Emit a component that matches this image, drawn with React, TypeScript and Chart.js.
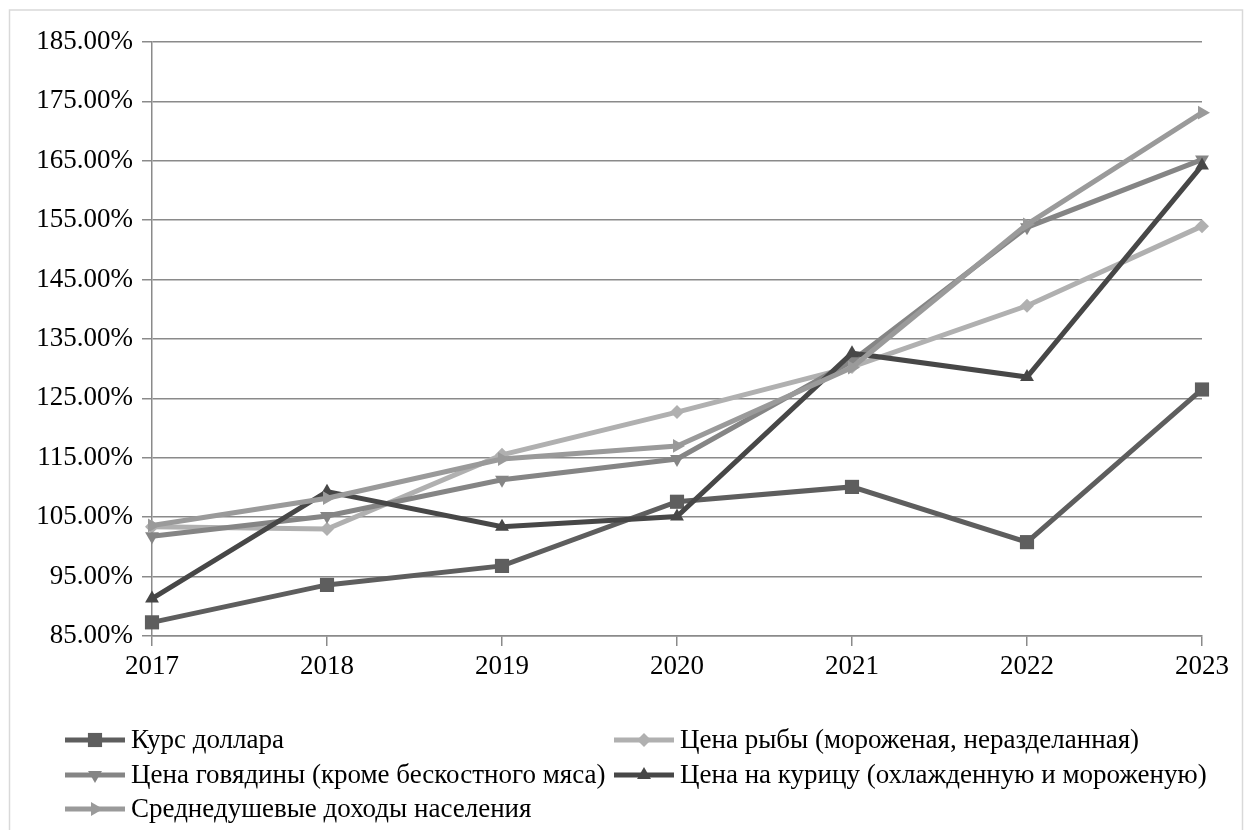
import React, { useEffect, useRef } from "react";
import { Chart, registerables } from "chart.js";

Chart.register(...registerables);

const years = ["2017", "2018", "2019", "2020", "2021", "2022", "2023"];
const dollarRate = [87.3, 93.6, 96.8, 107.6, 110.1, 100.8, 126.5];
const fishPrice = [103.4, 103.0, 115.5, 122.7, 130.3, 140.6, 154.0];
const beefPrice = [101.8, 105.2, 111.3, 114.8, 131.3, 153.8, 165.2];
const chickenPrice = [91.3, 109.3, 103.4, 105.1, 132.6, 128.6, 164.2];
const incomePerCapita = [103.6, 108.2, 114.8, 117.0, 130.2, 154.3, 173.1];

const seriesNames = [
  "Курс доллара",
  "Цена рыбы (мороженая, неразделанная)",
  "Цена говядины (кроме бескостного мяса)",
  "Цена на курицу (охлажденную и мороженую)",
  "Среднедушевые доходы населения",
];
const seriesColors = ["#5e5e5e", "#b0b0b0", "#858585", "#474747", "#9a9a9a"];
const seriesMarkers = ["rect", "rectRot", "triangleDown", "triangle", "triangleRight"];
const seriesRadius = [10, 7, 8, 8, 8];

const FONT = '"Liberation Serif", "DejaVu Serif", serif';
const FONT_SIZE = 27;

function markerStyle(m: string): { style: any; rotation: number } {
  if (m === "triangleDown") return { style: "triangle", rotation: 180 };
  if (m === "triangleRight") return { style: "triangle", rotation: 90 };
  return { style: m, rotation: 0 };
}

function drawMarker(ctx: CanvasRenderingContext2D, m: string, x: number, y: number, r: number, color: string) {
  ctx.save();
  ctx.fillStyle = color;
  ctx.beginPath();
  if (m === "rect") {
    const s = Math.SQRT1_2 * r;
    ctx.rect(x - s, y - s, 2 * s, 2 * s);
  } else if (m === "rectRot") {
    ctx.moveTo(x, y - r);
    ctx.lineTo(x + r, y);
    ctx.lineTo(x, y + r);
    ctx.lineTo(x - r, y);
    ctx.closePath();
  } else {
    const rot = m === "triangleDown" ? Math.PI : m === "triangleRight" ? Math.PI / 2 : 0;
    for (let i = 0; i < 3; i++) {
      const a = rot + (i * 2 * Math.PI) / 3;
      const px = x + Math.sin(a) * r;
      const py = y - Math.cos(a) * r;
      if (i === 0) ctx.moveTo(px, py);
      else ctx.lineTo(px, py);
    }
    ctx.closePath();
  }
  ctx.fill();
  ctx.restore();
}

const framePlugin = {
  id: "frame",
  beforeDraw(chart: any) {
    const ctx = chart.ctx;
    ctx.save();
    ctx.fillStyle = "#ffffff";
    ctx.fillRect(0, 0, chart.width, chart.height);
    ctx.strokeStyle = "#d9d9d9";
    ctx.lineWidth = 1.5;
    ctx.strokeRect(9.5, 10, chart.width - 11, chart.height + 20);
    ctx.restore();
  },
};

const legendPlugin = {
  id: "customLegend",
  afterDraw(chart: any) {
    const ctx = chart.ctx;
    const cols = [65, 614];
    const rows = [740, 775, 809];
    ctx.save();
    seriesNames.forEach((name, i) => {
      const x = cols[i % 2];
      const y = rows[Math.floor(i / 2)];
      ctx.strokeStyle = seriesColors[i];
      ctx.lineWidth = 5;
      ctx.beginPath();
      ctx.moveTo(x, y);
      ctx.lineTo(x + 60, y);
      ctx.stroke();
      drawMarker(ctx, seriesMarkers[i], x + 30, y, seriesRadius[i], seriesColors[i]);
      ctx.fillStyle = "#000000";
      ctx.font = `${FONT_SIZE}px ${FONT}`;
      ctx.textBaseline = "middle";
      ctx.textAlign = "left";
      ctx.fillText(name, x + 66, y + 1);
    });
    ctx.restore();
  },
};

export default function App() {
  const ref = useRef<HTMLCanvasElement | null>(null);

  useEffect(() => {
    if (!ref.current) return;
    const values = [dollarRate, fishPrice, beefPrice, chickenPrice, incomePerCapita];
    const datasets = values.map((data, i) => {
      const ms = markerStyle(seriesMarkers[i]);
      return {
        label: seriesNames[i],
        data,
        borderColor: seriesColors[i],
        backgroundColor: seriesColors[i],
        borderWidth: 5,
        pointStyle: ms.style,
        rotation: ms.rotation,
        pointRadius: seriesRadius[i],
        pointBorderWidth: 0,
        pointBackgroundColor: seriesColors[i],
        pointBorderColor: seriesColors[i],
        tension: 0,
        fill: false,
        order: 5 - i,
      };
    });
    const chart = new Chart(ref.current, {
      type: "line",
      data: { labels: years, datasets },
      options: {
        responsive: false,
        animation: false,
        devicePixelRatio: 1,
        layout: { padding: { left: 0, top: 42, right: 42, bottom: 150 } },
        plugins: { legend: { display: false }, tooltip: { enabled: false } },
        scales: {
          x: {
            offset: false,
            grid: { drawOnChartArea: false, drawTicks: true, tickLength: 10, color: "#8a8a8a", lineWidth: 1.5 },
            border: { display: true, color: "#8a8a8a", width: 1.5 },
            ticks: { color: "#000000", font: { family: FONT, size: FONT_SIZE }, padding: 5, maxRotation: 0, autoSkip: false },
            afterFit(scale: any) {
              scale.height = 44;
            },
          },
          y: {
            min: 85,
            max: 185,
            grid: { color: "#8a8a8a", lineWidth: 1.5, tickLength: 10 },
            border: { display: true, color: "#8a8a8a", width: 1.5 },
            ticks: {
              stepSize: 10,
              color: "#000000",
              font: { family: FONT, size: FONT_SIZE },
              padding: 9,
              callback: (v: any) => Number(v).toFixed(2) + "%",
            },
            afterFit(scale: any) {
              scale.width = 152;
            },
          },
        },
      },
      plugins: [framePlugin, legendPlugin],
    });
    return () => chart.destroy();
  }, []);

  return (
    <div style={{ position: "fixed", left: 0, top: 0, width: 1244, height: 830, background: "#fff" }}>
      <canvas ref={ref} width={1244} height={830} style={{ width: 1244, height: 830, display: "block" }} />
    </div>
  );
}
